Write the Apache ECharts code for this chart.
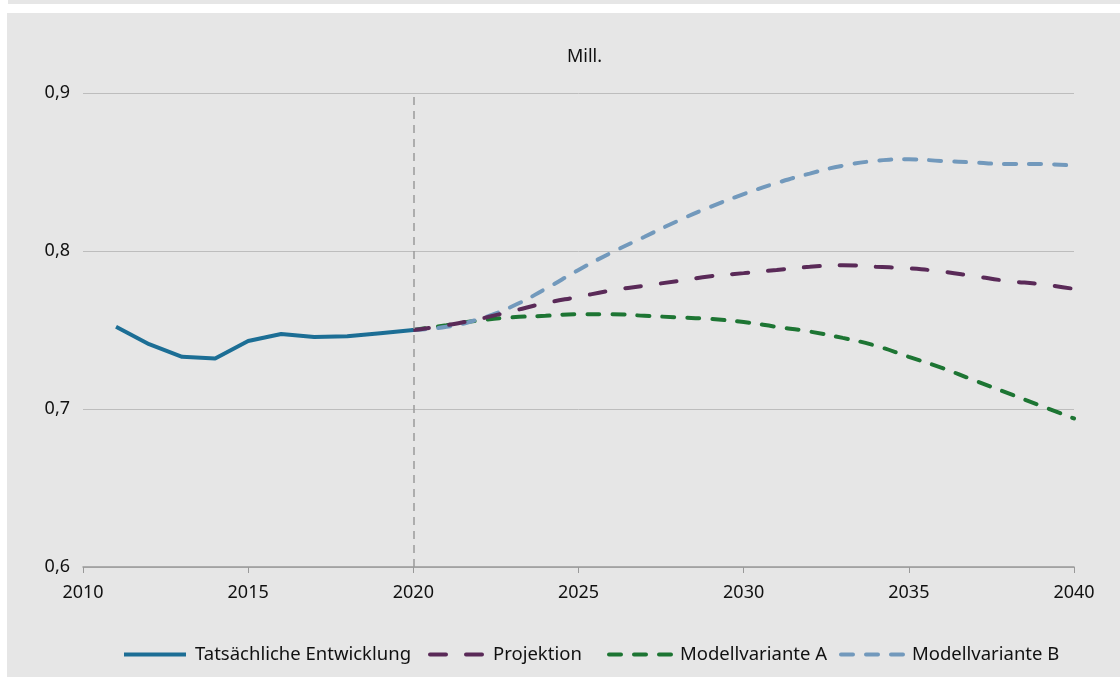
<!DOCTYPE html>
<html>
<head>
<meta charset="utf-8">
<script src="https://cdn.jsdelivr.net/npm/echarts@6/dist/echarts.min.js"></script>
<style>
  body { margin: 0; background: #fff; }
  #strip { position: absolute; left: 8px; top: 0; width: 1112px; height: 4px; background: #e6e6e6; }
  #chart { position: absolute; left: 7px; top: 13px; width: 1113px; height: 664px; background: #e6e6e6; }
</style>
</head>
<body>
<div id="strip"></div>
<div id="chart"></div>
<script>
var chart = echarts.init(document.getElementById('chart'));

// years
var actualYears = [2011, 2012, 2013, 2014, 2015, 2016, 2017, 2018, 2019, 2020];
var futureYears = [2020, 2021, 2022, 2023, 2024, 2025, 2026, 2027, 2028, 2029, 2030,
	2031, 2032, 2033, 2034, 2035, 2036, 2037, 2038, 2039, 2040];

// values (Mill.)
var actual = [0.752, 0.741, 0.733, 0.732, 0.743, 0.7475, 0.7456, 0.746, 0.748, 0.750];
var projektion = [0.750, 0.753, 0.757, 0.762, 0.767, 0.771, 0.775, 0.778, 0.781, 0.784, 0.786,
	0.788, 0.790, 0.791, 0.790, 0.789, 0.787, 0.784, 0.781, 0.779, 0.776];
var variantA = [0.750, 0.753, 0.756, 0.758, 0.759, 0.760, 0.760, 0.759, 0.758, 0.757, 0.755,
	0.752, 0.749, 0.745, 0.740, 0.733, 0.726, 0.718, 0.710, 0.702, 0.694];
var variantB = [0.750, 0.752, 0.757, 0.765, 0.776, 0.788, 0.799, 0.809, 0.819, 0.828, 0.836,
	0.843, 0.849, 0.854, 0.857, 0.858, 0.857, 0.856, 0.855, 0.855, 0.854];

var names = ['Tatsächliche Entwicklung', 'Projektion', 'Modellvariante A', 'Modellvariante B'];

function pairs(xs, ys) {
	return xs.map(function (x, i) { return [x, ys[i]]; });
}

var font = '"Noto Sans", sans-serif';

// one legend per entry so they can be spaced like the original
function legendAt(name, left, width) {
	return {
		bottom: 8,
		left: left,
		itemWidth: width,
		itemHeight: 12,
		itemStyle: { opacity: 0 },
		lineStyle: { width: 4 },
		textStyle: { fontSize: 18.5, color: '#111', fontFamily: font, padding: [0, 0, 0, 4] },
		data: [name]
	};
}

var option = {
	animation: false,
	textStyle: { fontFamily: font },
	title: {
		text: 'Mill.',
		left: 555,
		top: 30,
		textStyle: { fontSize: 18, fontWeight: 'normal', color: '#111', fontFamily: font }
	},
	grid: { left: 76, right: 46, top: 80, bottom: 110 },
	legend: [
		legendAt(names[0], 110, 62),
		legendAt(names[1], 416, 54),
		legendAt(names[2], 595, 62),
		legendAt(names[3], 827, 62)
	],
	xAxis: {
		type: 'value',
		min: 2010,
		max: 2040,
		interval: 5,
		axisLine: { lineStyle: { color: '#999', width: 1.5 } },
		axisTick: { show: true, length: 6, lineStyle: { color: '#999' } },
		splitLine: { show: false },
		axisLabel: { fontSize: 18, color: '#111', margin: 17, formatter: function (v) { return String(v); } }
	},
	yAxis: {
		type: 'value',
		min: 0.6,
		max: 0.9,
		interval: 0.1,
		axisLine: { show: false },
		axisTick: { show: false },
		splitLine: { lineStyle: { color: '#bdbdbd', width: 1 } },
		axisLabel: {
			fontSize: 18, color: '#111', margin: 13,
			formatter: function (v) { return v.toFixed(1).replace('.', ','); }
		}
	},
	series: [
		{
			name: names[0],
			type: 'line',
			symbol: 'none',
			color: '#1c6e95',
			lineStyle: { width: 4, color: '#1c6e95' },
			data: pairs(actualYears, actual),
			z: 5,
			markLine: {
				silent: true,
				symbol: 'none',
				label: { show: false },
				lineStyle: { color: '#9a9a9a', type: [8, 6], width: 1.5 },
				data: [[{ coord: [2020, 0.6] }, { coord: [2020, 0.9] }]]
			}
		},
		{
			name: names[2],
			type: 'line',
			symbol: 'none',
			smooth: true,
			color: '#1d7533',
			lineStyle: { width: 4, color: '#1d7533', type: [12, 13], cap: 'round' },
			data: pairs(futureYears, variantA)
		},
		{
			name: names[3],
			type: 'line',
			symbol: 'none',
			smooth: true,
			color: '#7299bc',
			lineStyle: { width: 4, color: '#7299bc', type: [12, 13], cap: 'round' },
			data: pairs(futureYears, variantB)
		},
		{
			name: names[1],
			type: 'line',
			symbol: 'none',
			smooth: true,
			color: '#5a2a58',
			lineStyle: { width: 4, color: '#5a2a58', type: [16, 20], cap: 'round' },
			data: pairs(futureYears, projektion)
		}
	]
};

chart.setOption(option);
</script>
</body>
</html>
